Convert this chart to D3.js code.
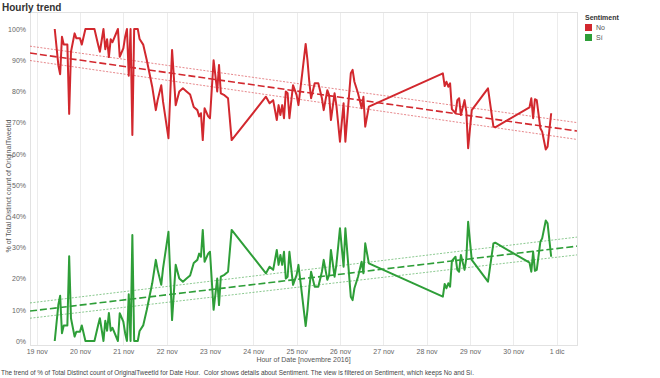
<!DOCTYPE html>
<html><head><meta charset="utf-8">
<script src="https://cdn.jsdelivr.net/npm/d3@7"></script>
<style>body{margin:0;background:#fff;} svg{display:block;font-family:Arial,"Liberation Sans",sans-serif;}</style>
</head><body><svg id="c" width="660" height="378"></svg>
<script>
// hours since 19 nov 2016 00:00
const hours = [10,12,13,14,15,17,18,19,21,22,24,25,27,30,32,34,35,37,38,39,40,41,42,45,46,48,49,50,51,52,53,54,56,57,59,61,64,66,67,69,70,73,75,77,79,81,83,85,87,89,90,91,92,93,95,96,98,100,101,102,104,106,108,127,129,131,133,134,135,136,137,138,139,140,142,144,145,147,149,150,151,152,154,156,158,159,161,162,163,165,166,168,170,171,174,175,176,178,180,181,182,184,225,226,227,228,229,230,232,233,234,235,237,238,239,241,250,253,254,273,274,275,276,277,279,280,282,283,285];
const noValues = [100,88.4,85.5,97.5,95,95,72.8,92.7,98.6,97,97,95,100,100,100,95,92.7,100,93.5,96.7,91,96.7,95.8,100,91.1,93.8,97.5,100,85,100,66,100,100,96.8,95,90,81.5,74,77.2,82,76.7,65,93.3,75.6,80,81,80,79,75,74,72,73,64.4,74.6,72,71.4,90,80,88.5,79.4,78.8,77.8,64.4,78.3,76.2,77.2,70.8,75.6,72.4,75.6,71.4,80,79.4,71.4,82,78.8,75.6,85.3,95.2,90,83.1,77.8,82.6,82.6,77.8,74,80.4,78.8,70.8,79.4,75.6,63.9,76.2,63.9,85.8,86.9,83.1,79.4,74.6,78.3,68.7,75.1,85.8,81.7,83.1,81.5,82.6,74.3,73,77.2,77.8,72.4,77.2,73.5,61.8,74,81,68.7,68.5,74.9,77.8,71.4,77.5,77.2,68.2,67.1,61.4,62.3,73];
const siValues = [0,11.6,14.5,2.5,5,5,27.2,7.3,1.4,3,3,5,0,0,0,5,7.3,0,6.5,3.3,9,3.3,4.2,0,8.9,6.2,2.5,0,15,0,34,0,0,3.2,5,10,18.5,26,22.8,18,23.3,35,6.7,24.4,20,19,20,21,25,26,28,27,35.6,25.4,28,28.6,10,20,11.5,20.6,21.2,22.2,35.6,21.7,23.8,22.8,29.2,24.4,27.6,24.4,28.6,20,20.6,28.6,18,21.2,24.4,14.7,4.8,10,16.9,22.2,17.4,17.4,22.2,26,19.6,21.2,29.2,20.6,24.4,36.1,23.8,36.1,14.2,13.1,16.9,20.6,25.4,21.7,31.3,24.9,14.2,18.3,16.9,18.5,17.4,25.7,27,22.8,22.2,27.6,22.8,26.5,38.2,26,19,31.3,31.5,25.1,22.2,28.6,22.5,22.8,31.8,32.9,38.6,37.7,27];

const trendHours = [-3.7, 299.3];
const trendNo = [92.3, 67.3];
const bandNoHi = [94.5, 70.0];
const bandNoLo = [89.9, 64.6];
const trendSi = [9.6, 30.4];
const bandSiHi = [12.2, 33.3];
const bandSiLo = [7.3, 27.6];

const tickLabels = ["19 nov","20 nov","21 nov","22 nov","23 nov","24 nov","25 nov","26 nov","27 nov","28 nov","29 nov","30 nov","1 dic"];
const yTicks = [0,10,20,30,40,50,60,70,80,90,100];
const seriesNames = ["No","Sí"];
const seriesColors = ["#d2282e","#2e9e38"];

const svg = d3.select("#c");
const base = Date.UTC(2016,10,19);
const toDate = h => new Date(base + h*3600000);

const L=30, R=577, T=12, B=345;
const x = d3.scaleUtc().domain([toDate(trendHours[0]), toDate(trendHours[1])]).range([L,R]);
const y = d3.scaleLinear().domain([0,100]).range([341,29]);
const tickDates = tickLabels.map((_,i)=>toDate(24*i));

// frame & grid
svg.append("g").selectAll("line").data(tickDates).join("line")
  .attr("x1",d=>Math.round(x(d))+0.5).attr("x2",d=>Math.round(x(d))+0.5)
  .attr("y1",T).attr("y2",B).attr("stroke","#ececec").attr("stroke-width",1);
svg.append("rect").attr("x",L+0.5).attr("y",T+0.5).attr("width",R-L).attr("height",B-T)
  .attr("fill","none").attr("stroke","#e2e2e2");

// axes
const xa = svg.append("g").attr("transform",`translate(0,${B})`)
  .call(d3.axisBottom(x).tickValues(tickDates).tickFormat((d,i)=>tickLabels[i]).tickSize(0).tickPadding(4));
xa.select(".domain").remove();
xa.selectAll("text").attr("fill","#666").style("font-size","7px").style("font-family","Arial,'Liberation Sans',sans-serif");

const ya = svg.append("g").attr("transform",`translate(${L},0)`)
  .call(d3.axisLeft(y).tickValues(yTicks).tickFormat(d=>d+"%").tickSize(0).tickPadding(4));
ya.select(".domain").remove();
ya.selectAll("text").attr("fill","#666").style("font-size","7px").style("font-family","Arial,'Liberation Sans',sans-serif");

// clip
svg.append("clipPath").attr("id","clip").append("rect").attr("x",L).attr("y",T).attr("width",R-L).attr("height",B-T);
const plot = svg.append("g").attr("clip-path","url(#clip)");

const line = d3.line().x(d=>x(toDate(d[0]))).y(d=>y(d[1]));
const series = [noValues, siValues];
const trends = [[trendNo,bandNoHi,bandNoLo],[trendSi,bandSiHi,bandSiLo]];

series.forEach((vals,si)=>{
  const c = seriesColors[si];
  const [tr,hi,lo] = trends[si];
  [hi,lo].forEach(b=>{
    plot.append("path").datum(trendHours.map((h,i)=>[h,b[i]])).attr("d",line)
      .attr("fill","none").attr("stroke",c).attr("stroke-opacity",0.7).attr("stroke-width",0.8).attr("stroke-dasharray","2,1.5");
  });
  plot.append("path").datum(trendHours.map((h,i)=>[h,tr[i]])).attr("d",line)
    .attr("fill","none").attr("stroke",c).attr("stroke-width",1.6).attr("stroke-dasharray","7,3");
  plot.append("path").datum(hours.map((h,i)=>[h,vals[i]])).attr("d",line)
    .attr("fill","none").attr("stroke",c).attr("stroke-width",2).attr("stroke-linejoin","round");
});

// titles
svg.append("text").attr("x",2).attr("y",11).text("Hourly trend")
  .attr("fill","#333").style("font-size","10px").style("font-weight","bold");

svg.append("text").attr("x",(L+R)/2).attr("y",362).attr("text-anchor","middle")
  .text("Hour of Date [novembre 2016]").attr("fill","#555").style("font-size","7px");

svg.append("text").attr("transform","translate(11,186) rotate(-90)").attr("text-anchor","middle")
  .text("% of Total Distinct count of OriginalTweetId").attr("fill","#555").style("font-size","7px");

svg.append("text").attr("x",1).attr("y",375)
  .text("The trend of % of Total Distinct count of OriginalTweetId for Date Hour.  Color shows details about Sentiment. The view is filtered on Sentiment, which keeps No and Sí.")
  .attr("fill","#444").style("font-size","6.4px").style("white-space","pre");

// legend
svg.append("text").attr("x",585).attr("y",20).text("Sentiment")
  .attr("fill","#333").style("font-size","7px").style("font-weight","bold");
seriesNames.forEach((n,i)=>{
  svg.append("rect").attr("x",585).attr("y",24+i*10).attr("width",7).attr("height",7).attr("fill",seriesColors[i]);
  svg.append("text").attr("x",596).attr("y",30+i*10).text(n).attr("fill","#555").style("font-size","7px");
});
</script></body></html>
